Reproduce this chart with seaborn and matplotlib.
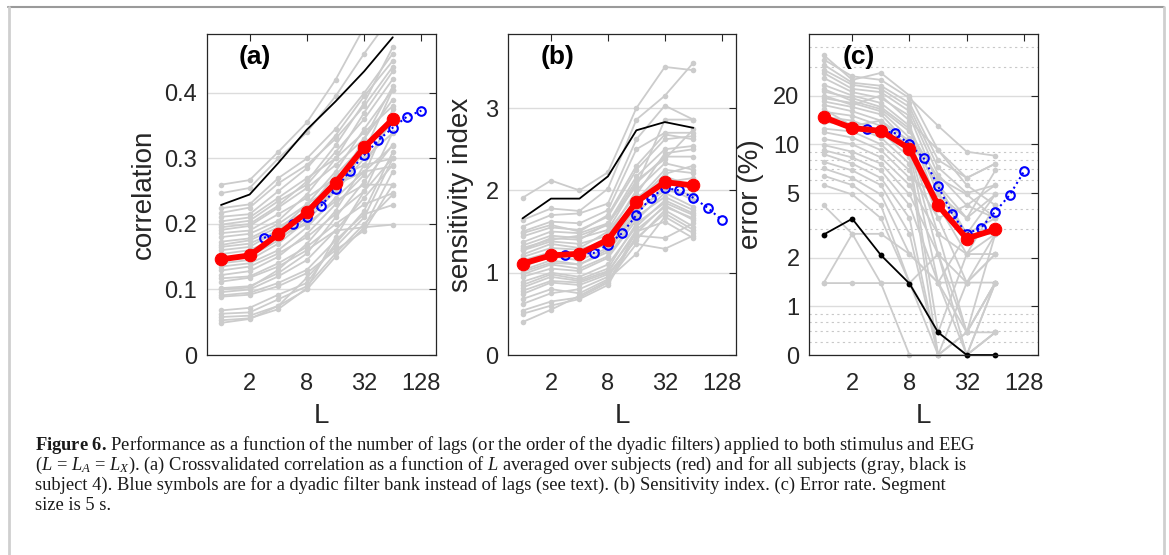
import numpy as np
import pandas as pd
import seaborn as sns
import matplotlib.pyplot as plt
from matplotlib.lines import Line2D
from matplotlib.ticker import FixedLocator, NullLocator, LogLocator, NullFormatter

sns.set_theme(style='white')
plt.rcParams['font.family'] = ['Liberation Sans', 'DejaVu Sans']
plt.rcParams['mathtext.fontset'] = 'custom'
plt.rcParams['mathtext.rm'] = 'Liberation Serif'
plt.rcParams['mathtext.it'] = 'Liberation Serif:italic'
plt.rcParams['mathtext.bf'] = 'Liberation Serif:bold'

# number of lags L, and orders for the dyadic filter bank (blue)
lags = [1, 2, 4, 8, 16, 32, 64]
dyadic_L = [2.83, 4, 5.66, 8, 11.31, 16, 22.63, 32, 45.25, 64, 90.51, 128]

# (a) correlation
corr_gray = [
    [.260, .267, .310, .355, .420, .500, .560],
    [.247, .255, .300, .340, .395, .460, .520],
    [.224, .230, .270, .300, .345, .400, .460],
    [.217, .225, .262, .290, .330, .380, .440],
    [.211, .215, .250, .285, .335, .395, .449],
    [.204, .210, .240, .270, .300, .340, .380],
    [.199, .205, .235, .260, .310, .360, .421],
    [.191, .197, .225, .255, .290, .330, .390],
    [.186, .190, .215, .240, .270, .290, .300],
    [.180, .185, .205, .245, .300, .370, .433],
    [.173, .178, .200, .230, .260, .280, .288],
    [.168, .175, .195, .220, .275, .320, .357],
    [.160, .165, .190, .215, .250, .300, .339],
    [.154, .160, .180, .200, .235, .260, .260],
    [.140, .145, .170, .205, .250, .310, .405],
    [.135, .140, .160, .195, .240, .280, .319],
    [.129, .135, .155, .180, .215, .250, .301],
    [.122, .128, .150, .185, .230, .275, .375],
    [.117, .120, .140, .165, .200, .230, .247],
    [.112, .118, .135, .160, .190, .195, .199],
    [.102, .105, .125, .155, .210, .265, .321],
    [.096, .100, .120, .145, .190, .240, .290],
    [.091, .095, .110, .130, .175, .215, .229],
    [.089, .092, .105, .125, .160, .190, .260],
    [.068, .072, .092, .110, .170, .220, .310],
    [.063, .065, .085, .105, .155, .200, .245],
    [.058, .060, .075, .100, .150, .195, .280],
    [.053, .056, .070, .102, .180, .250, .340],
    [.049, .055, .075, .118, .165, .210, .300],
    [.100, .103, .130, .170, .220, .290, .360],
    [.145, .150, .175, .210, .255, .330, .410],
    [.195, .200, .228, .265, .320, .385, .470],
    [.165, .170, .190, .230, .280, .345, .405],
]
corr_black = [.229, .245, .293, .344, .387, .433, .485]
corr_red = [.146, .152, .184, .218, .263, .317, .360]
corr_blue = [.179, .185, .200, .210, .228, .253, .281, .305, .328, .347, .364, .373]

# (b) sensitivity index
dprime_gray = [
    [1.91, 2.12, 2.00, 2.22, 3.00, 3.50, 3.46],
    [1.64, 1.78, 1.75, 2.02, 2.86, 3.15, 3.55],
    [1.56, 1.70, 1.72, 1.84, 2.62, 3.03, 2.86],
    [1.50, 1.62, 1.60, 1.76, 2.50, 2.70, 2.70],
    [1.44, 1.55, 1.52, 1.68, 2.25, 2.62, 2.66],
    [1.37, 1.50, 1.48, 1.60, 2.17, 2.50, 2.54],
    [1.33, 1.45, 1.42, 1.52, 2.09, 2.41, 2.41],
    [1.27, 1.38, 1.35, 1.45, 2.00, 2.33, 2.25],
    [1.19, 1.30, 1.28, 1.40, 1.88, 2.25, 2.21],
    [1.07, 1.20, 1.15, 1.30, 1.80, 2.17, 2.05],
    [1.01, 1.12, 1.10, 1.25, 1.72, 2.05, 1.88],
    [0.95, 1.05, 1.02, 1.18, 1.64, 1.97, 1.80],
    [0.89, 1.00, 0.95, 1.10, 1.56, 1.88, 1.72],
    [0.82, 0.95, 0.90, 1.02, 1.48, 1.82, 1.64],
    [0.74, 0.88, 0.85, 0.98, 1.40, 1.76, 1.56],
    [0.68, 0.80, 0.75, 0.92, 1.23, 1.68, 1.48],
    [0.54, 0.65, 0.70, 0.88, 1.50, 1.62, 1.42],
    [0.50, 0.60, 0.68, 0.85, 1.45, 1.42, 1.60],
    [0.40, 0.55, 0.72, 0.90, 1.35, 1.29, 1.45],
    [1.28, 1.42, 1.40, 1.60, 2.05, 2.86, 2.86],
    [1.22, 1.35, 1.30, 1.50, 1.95, 2.45, 2.50],
    [1.15, 1.25, 1.22, 1.35, 1.85, 2.20, 2.30],
    [1.03, 1.15, 1.10, 1.28, 1.75, 2.00, 1.95],
    [0.98, 1.10, 1.05, 1.20, 1.68, 1.92, 1.76],
    [0.85, 0.98, 0.92, 1.05, 1.60, 1.85, 1.70],
    [1.48, 1.58, 1.50, 1.70, 2.30, 2.68, 2.62],
    [1.12, 1.22, 1.20, 1.38, 1.92, 2.10, 2.15],
    [0.78, 0.90, 0.88, 1.00, 1.52, 1.80, 1.66],
    [1.30, 1.40, 1.45, 1.58, 2.12, 2.38, 2.74],
    [0.62, 0.75, 0.80, 0.95, 1.42, 1.72, 1.52],
]
dprime_black = [1.66, 1.90, 1.90, 2.17, 2.73, 2.83, 2.76]
dprime_red = [1.11, 1.21, 1.23, 1.40, 1.86, 2.10, 2.06]
dprime_blue = [1.22, 1.23, 1.24, 1.34, 1.48, 1.70, 1.91, 2.03, 2.00, 1.91, 1.79, 1.64]

# (c) error rate in %
err_gray = [
    [35.6, 25.0, 27.6, 20.0, 9.2, 5.6, 4.2],
    [33.4, 26.3, 25.0, 19.3, 13.0, 9.0, 8.5],
    [31.1, 24.0, 23.0, 18.0, 8.0, 6.2, 7.6],
    [28.9, 23.3, 22.0, 17.0, 7.2, 5.0, 5.6],
    [27.6, 22.0, 21.0, 16.0, 6.5, 4.2, 3.5],
    [25.7, 21.0, 19.3, 15.0, 5.6, 3.5, 6.9],
    [23.3, 20.0, 18.0, 13.0, 4.9, 2.8, 4.9],
    [21.2, 19.3, 17.0, 12.5, 4.2, 2.1, 2.8],
    [19.3, 18.0, 16.0, 11.0, 3.5, 1.4, 2.1],
    [18.4, 17.0, 15.3, 10.0, 2.8, 0.69, 1.4],
    [17.5, 16.0, 14.0, 9.5, 2.1, 0, 0.69],
    [15.9, 15.0, 13.0, 9.0, 1.4, 2.8, 3.5],
    [14.8, 14.0, 12.0, 8.3, 0.69, 2.1, 4.2],
    [13.8, 13.0, 11.0, 7.6, 0, 1.4, 2.8],
    [12.5, 12.0, 10.0, 6.9, 3.5, 4.2, 5.6],
    [11.9, 11.0, 9.2, 6.2, 4.9, 3.5, 4.9],
    [10.8, 10.0, 8.3, 5.6, 2.8, 2.1, 2.1],
    [9.9, 9.0, 7.6, 4.9, 2.1, 0.69, 1.4],
    [9.2, 8.3, 6.9, 4.2, 1.4, 0, 0.69],
    [8.7, 7.6, 6.2, 3.5, 0, 0, 1.4],
    [7.8, 6.9, 5.6, 2.8, 0, 0.69, 2.8],
    [7.1, 6.2, 4.9, 2.1, 1.4, 1.4, 2.1],
    [6.4, 5.6, 4.2, 1.4, 0.69, 0, 0.69],
    [5.6, 4.9, 3.5, 1.4, 0, 0.69, 1.4],
    [4.2, 2.8, 2.8, 2.1, 1.4, 0.69, 0.69],
    [1.39, 1.39, 1.39, 1.39, 2.1, 1.4, 1.4],
    [1.39, 2.8, 1.39, 0, 0, 0, 1.4],
    [20.0, 17.5, 20.0, 14.0, 9.2, 6.2, 7.6],
    [22.0, 18.5, 16.5, 12.0, 6.2, 4.9, 3.5],
    [16.5, 13.0, 14.0, 10.5, 5.6, 2.8, 2.8],
]
err_black = [2.77, 3.47, 2.07, 1.38, 0.69, 0, 0]
err_red = [14.7, 12.6, 12.1, 9.4, 4.2, 2.62, 2.98]
err_blue = [12.4, 12.2, 11.7, 10.0, 8.2, 5.5, 3.7, 2.8, 3.05, 3.84, 4.86, 6.8]

caption = [
    r"$\mathbf{Figure\ 6.}\,$Performance as a function of the number of lags (or the order of the dyadic filters) applied to both stimulus and EEG",
    r"($L$ = $L_A$ = $L_X$). (a) Crossvalidated correlation as a function of $L$ averaged over subjects (red) and for all subjects (gray, black is",
    "subject 4). Blue symbols are for a dyadic filter bank instead of lags (see text). (b) Sensitivity index. (c) Error rate. Segment",
    "size is 5 s.",
]

TXT = '#262626'
W, H = 1169, 555


def long_form(rows):
    return pd.DataFrame([(i, L, v) for i, r in enumerate(rows) for L, v in zip(lags, r)],
                        columns=['subject', 'L', 'value'])


def draw_panel(ax, gray, black, red, blue, black_marker=False, floor=None):
    clip = floor is None
    if floor is not None:
        gray = [list(np.maximum(r, floor)) for r in gray]
        black = list(np.maximum(black, floor))
    df = long_form(gray)
    sns.lineplot(data=df, x='L', y='value', units='subject', estimator=None, ax=ax,
                 color='#cccccc', lw=1.3, marker='o', markersize=4, markeredgewidth=0,
                 legend=False, zorder=1, clip_on=clip, sort=False)
    sns.lineplot(x=lags, y=black, ax=ax, color='black', lw=1.3, zorder=2, clip_on=clip,
                 marker='o' if black_marker else None, markersize=4.2, markeredgewidth=0)
    sns.lineplot(x=dyadic_L, y=blue, ax=ax, color='blue', lw=1.5, linestyle=':', marker='o',
                 markersize=6.2, markerfacecolor='none', markeredgecolor='blue',
                 markeredgewidth=1.5, zorder=3)
    sns.lineplot(x=lags, y=red, ax=ax, color='red', lw=4.2, marker='o', markersize=9,
                 markeredgecolor='red', zorder=4)
    ax.set_xscale('log', base=2)
    ax.set_xlim(2 ** -0.5, 2 ** 7.5)
    ax.xaxis.set_major_locator(FixedLocator([2, 8, 32, 128]))
    ax.xaxis.set_minor_locator(NullLocator())
    ax.set_xticklabels(['2', '8', '32', '128'])
    ax.set_xlabel('L', fontsize=20, color=TXT, labelpad=6)
    ax.tick_params(axis='both', which='major', direction='in', top=True, right=True,
                   length=5, width=0.8, color=TXT, labelsize=17, labelcolor=TXT)
    ax.tick_params(axis='x', pad=13)
    ax.tick_params(axis='y', pad=7)
    for s in ax.spines.values():
        s.set_color(TXT)
        s.set_linewidth(0.9)


fig = plt.figure(figsize=(W / 100, H / 100), dpi=100)
rect_y, rect_h = (555 - 355) / 555, 321 / 555
axa = fig.add_axes([206.7 / W, rect_y, 229 / W, rect_h])
axb = fig.add_axes([508.3 / W, rect_y, 227.7 / W, rect_h])
axc = fig.add_axes([809.3 / W, rect_y, 229 / W, rect_h])

# (a)
draw_panel(axa, corr_gray, corr_black, corr_red, corr_blue)
axa.set_ylim(0, 0.49)
axa.yaxis.set_major_locator(FixedLocator([0, 0.1, 0.2, 0.3, 0.4]))
axa.set_yticklabels(['0', '0.1', '0.2', '0.3', '0.4'])
axa.set_ylabel('correlation', fontsize=20, color=TXT, labelpad=5)
axa.yaxis.grid(True, color='#dcdcdc', lw=1)

# (b)
draw_panel(axb, dprime_gray, dprime_black, dprime_red, dprime_blue)
axb.set_ylim(0, 3.9)
axb.yaxis.set_major_locator(FixedLocator([0, 1, 2, 3]))
axb.set_yticklabels(['0', '1', '2', '3'])
axb.set_ylabel('sensitivity index', fontsize=20, color=TXT, labelpad=8)
axb.yaxis.grid(True, color='#dcdcdc', lw=1)

# (c)  log axis, zero errors drawn at the bottom (0.5)
draw_panel(axc, err_gray, err_black, err_red, err_blue, black_marker=True, floor=0.5)
axc.set_yscale('log')
axc.set_ylim(0.5, 48)
axc.yaxis.set_major_locator(FixedLocator([0.5, 1, 2, 5, 10, 20]))
axc.set_yticklabels(['0', '1', '2', '5', '10', '20'])
axc.yaxis.set_minor_locator(LogLocator(base=10, subs=np.arange(2, 10)))
axc.yaxis.set_minor_formatter(NullFormatter())
axc.tick_params(axis='y', which='minor', length=0)
axc.set_ylabel('error (%)', fontsize=20, color=TXT, labelpad=7)
axc.yaxis.grid(True, which='major', color='#dcdcdc', lw=1)
axc.yaxis.grid(True, which='minor', color='#c8c8c8', lw=0.8, ls=(0, (2, 3)))
for ax in (axa, axb, axc):
    ax.set_axisbelow(True)

for ax, lab, xp in [(axa, '(a)', 0.21), (axb, '(b)', 0.218), (axc, '(c)', 0.217)]:
    ax.text(xp, 0.928, lab, transform=ax.transAxes, ha='center', va='center',
            fontsize=19, fontweight='bold', color='black')

# caption
for i, line in enumerate(caption):
    y = 1 - (450 + 20 * i) / H
    fig.text(35 / W, y, line, ha='left', va='baseline', fontsize=13.3,
             family='Liberation Serif', color='#1a1a1a')

# page frame
fig.add_artist(Line2D([8 / W, 1164 / W], [1 - 6.5 / H, 1 - 6.5 / H], color='#9a9a9a', lw=1.5))
fig.add_artist(Line2D([9 / W, 9 / W], [0, 1 - 6.5 / H], color='#cfcfcf', lw=2))
fig.add_artist(Line2D([1164 / W, 1164 / W], [0, 1 - 6.5 / H], color='#cfcfcf', lw=2))

fig.savefig('out.png', dpi=100)
